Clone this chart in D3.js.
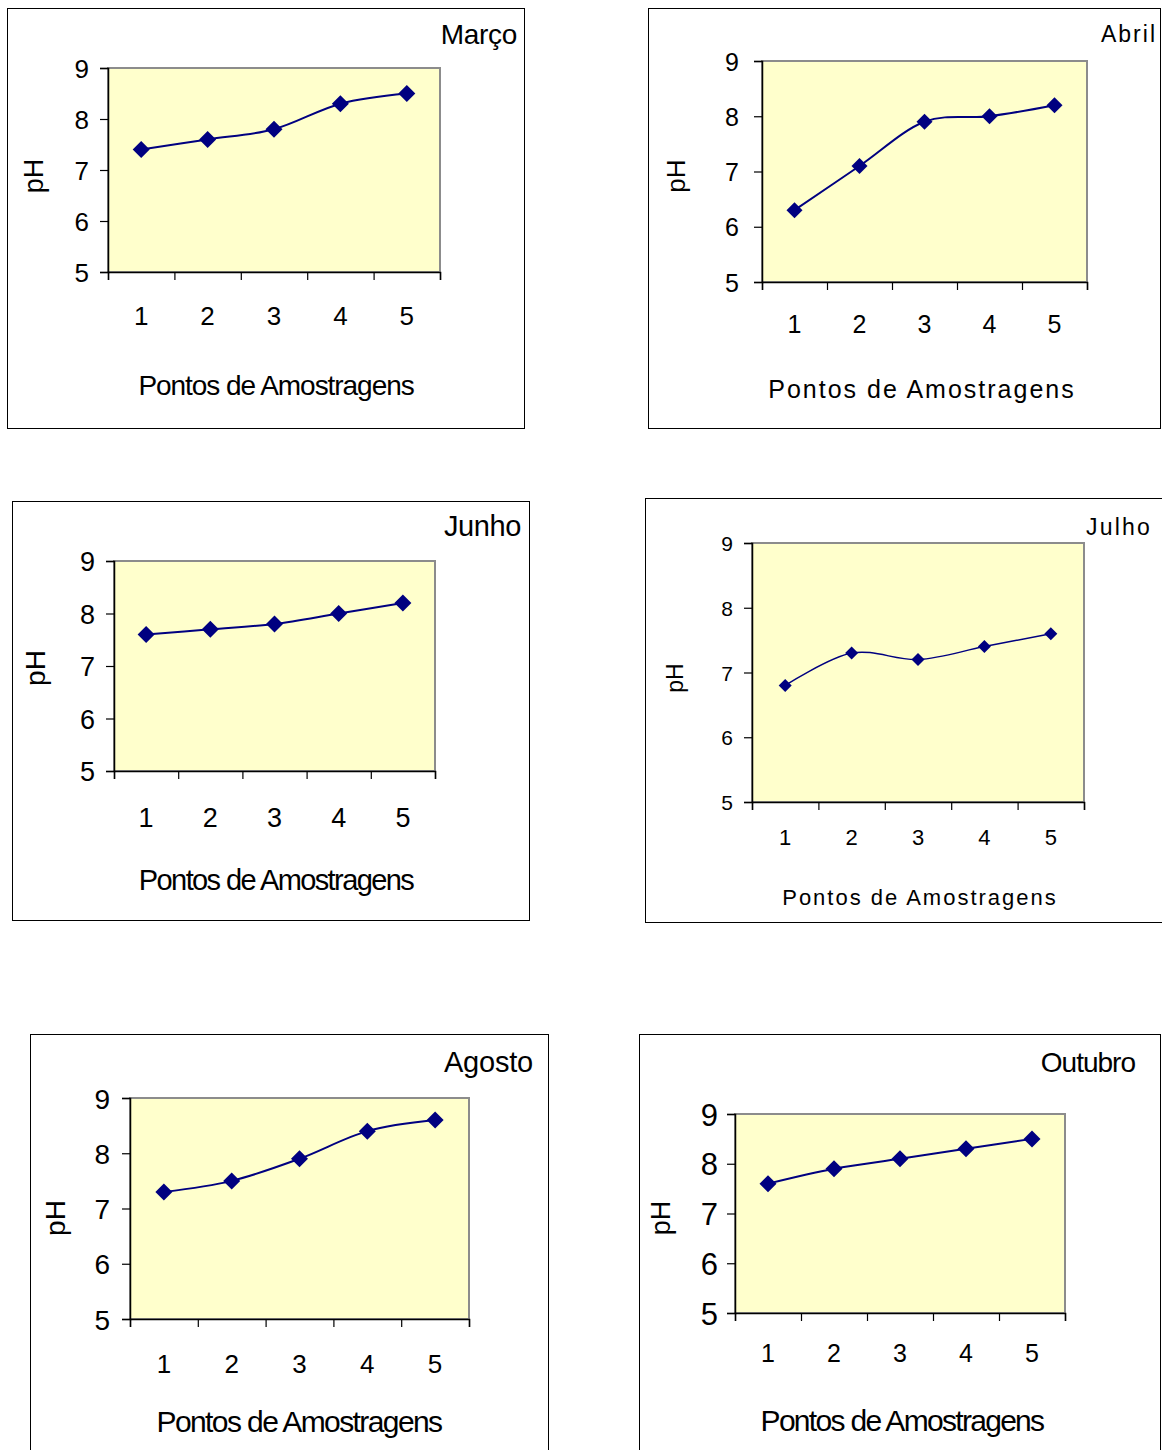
<!DOCTYPE html>
<html>
<head>
<meta charset="utf-8">
<script src="https://cdn.jsdelivr.net/npm/d3@7"></script>
<style>
  html, body { margin: 0; padding: 0; background: #fff; }
  svg { display: block; }
  text { font-family: "Liberation Sans", Arial, sans-serif; fill: #000; }
</style>
</head>
<body>
<svg id="chart" width="1162" height="1450"></svg>
<script>
// pH por ponto de amostragem, um painel por mês
const pontos = ["1", "2", "3", "4", "5"];
const phTicks = [5, 6, 7, 8, 9];
const meses = ["Março", "Abril", "Junho", "Julho", "Agosto", "Outubro"];
const phMarco   = [7.4, 7.6, 7.8, 8.3, 8.5];
const phAbril   = [6.3, 7.1, 7.9, 8.0, 8.2];
const phJunho   = [7.6, 7.7, 7.8, 8.0, 8.2];
const phJulho   = [6.8, 7.3, 7.2, 7.4, 7.6];
const phAgosto  = [7.3, 7.5, 7.9, 8.4, 8.6];
const phOutubro = [7.6, 7.9, 8.1, 8.3, 8.5];
const eixoX = "Pontos de Amostragens";
const eixoY = "pH";

const series = [phMarco, phAbril, phJunho, phJulho, phAgosto, phOutubro];

// Panel geometry and typography
const layout = [
  { frame: [7, 8, 524, 428], plot: [108, 68, 440, 272], yLab: 89, xLabY: 316, tick: 26, xTick: 26,
    title: { x: 517, y: 44, size: 28, ls: -0.3 }, axis: { x: 276, y: 395, size: 28, ls: -1.05 }, ph: { x: 35, y: 176, size: 27 }, mk: 17, lw: 2 },
  { frame: [648, 8, 1160, 428], plot: [762, 61, 1087, 282], yLab: 739, xLabY: 324, tick: 25, xTick: 25,
    title: { x: 1157, y: 42, size: 23, ls: 2 }, axis: { x: 922, y: 398, size: 25, ls: 2 }, ph: { x: 677, y: 176, size: 26 }, mk: 16, lw: 2 },
  { frame: [12, 501, 529, 920], plot: [114, 561, 435, 771], yLab: 95, xLabY: 817, tick: 27, xTick: 27,
    title: { x: 521, y: 536, size: 29, ls: -0.4 }, axis: { x: 276, y: 890, size: 29, ls: -1.6 }, ph: { x: 37, y: 668, size: 28 }, mk: 17, lw: 2 },
  { frame: [645, 498, 1163, 922], plot: [752, 543, 1084, 802], yLab: 733, xLabY: 837, tick: 21, xTick: 22,
    title: { x: 1152, y: 535, size: 23, ls: 2.2 }, axis: { x: 920, y: 905, size: 22, ls: 2 }, ph: { x: 676, y: 678, size: 23 }, mk: 13, lw: 1.5 },
  { frame: [30, 1034, 548, 1460], plot: [130, 1098, 469, 1319], yLab: 110, xLabY: 1364, tick: 28, xTick: 26,
    title: { x: 533, y: 1072, size: 29, ls: -0.2 }, axis: { x: 299, y: 1432, size: 30, ls: -1.6 }, ph: { x: 57, y: 1218, size: 28 }, mk: 17, lw: 2 },
  { frame: [639, 1034, 1160, 1460], plot: [735, 1114, 1065, 1313], yLab: 718, xLabY: 1353, tick: 31, xTick: 25,
    title: { x: 1135, y: 1072, size: 28, ls: -1 }, axis: { x: 902, y: 1431, size: 30, ls: -1.7 }, ph: { x: 662, y: 1218, size: 27 }, mk: 17, lw: 2 }
];

const svg = d3.select("#chart");
const navy = "#000080";

series.forEach((vals, i) => {
  const L = layout[i];
  const [fx0, fy0, fx1, fy1] = L.frame;
  const [px0, py0, px1, py1] = L.plot;
  const g = svg.append("g");

  // outer chart frame
  g.append("rect")
    .attr("x", fx0 + 0.5).attr("y", fy0 + 0.5)
    .attr("width", fx1 - fx0).attr("height", fy1 - fy0)
    .attr("fill", "#fff").attr("stroke", "#000").attr("stroke-width", 1);

  const x = d3.scaleBand().domain(pontos).range([px0, px1]).padding(0);
  const xEdges = d3.scaleLinear().domain([0, pontos.length]).range([px0, px1]);
  const y = d3.scaleLinear().domain([5, 9]).range([py1, py0]);

  // plot area
  g.append("rect")
    .attr("x", px0).attr("y", py0)
    .attr("width", px1 - px0).attr("height", py1 - py0)
    .attr("fill", "#ffffcc").attr("stroke", "#8c8c8c").attr("stroke-width", 2);

  // y axis
  const yAxis = g.append("g")
    .attr("transform", `translate(${px0},0)`)
    .call(d3.axisLeft(y).tickValues(phTicks).tickFormat(d3.format("d")).tickSize(8).tickPadding(px0 - 8 - L.yLab));
  yAxis.select(".domain").attr("stroke", "#000").attr("stroke-width", 1.5);
  yAxis.selectAll(".tick line").attr("stroke", "#000").attr("stroke-width", 1.2);
  yAxis.selectAll(".tick text")
    .attr("font-size", L.tick).attr("font-family", "Liberation Sans, Arial, sans-serif")
    .attr("fill", "#000").attr("dy", "0.36em");

  // x axis: category boundaries as ticks
  const xAxisTicks = g.append("g")
    .attr("transform", `translate(0,${py1})`)
    .call(d3.axisBottom(xEdges).ticks(pontos.length).tickFormat("").tickSize(8).tickSizeOuter(8));
  xAxisTicks.select(".domain").attr("stroke", "#000").attr("stroke-width", 1.5);
  xAxisTicks.selectAll(".tick line").attr("stroke", "#000").attr("stroke-width", 1.2);

  // x axis: category labels
  const xAxisLabels = g.append("g")
    .attr("transform", `translate(0,${L.xLabY})`)
    .call(d3.axisBottom(x).tickSize(0).tickPadding(0));
  xAxisLabels.select(".domain").remove();
  xAxisLabels.selectAll(".tick text")
    .attr("font-size", L.xTick).attr("font-family", "Liberation Sans, Arial, sans-serif")
    .attr("fill", "#000").attr("y", 0).attr("dy", "0.36em");

  // smoothed series line
  const pts = vals.map((v, k) => [x(pontos[k]) + x.bandwidth() / 2, y(v)]);
  g.append("path")
    .attr("d", d3.line().curve(d3.curveCardinal.tension(0))(pts))
    .attr("fill", "none").attr("stroke", navy).attr("stroke-width", L.lw);

  // diamond markers
  const diamond = d3.symbol().type(d3.symbolSquare).size(L.mk * L.mk / 2);
  g.selectAll("path.mk").data(vals).join("path")
    .attr("class", "mk")
    .attr("d", diamond)
    .attr("transform", (v, k) => `translate(${x(pontos[k]) + x.bandwidth() / 2},${y(v)}) rotate(45)`)
    .attr("fill", navy);

  // month title
  g.append("text")
    .attr("x", L.title.x).attr("y", L.title.y)
    .attr("text-anchor", "end")
    .attr("font-size", L.title.size).attr("letter-spacing", L.title.ls)
    .text(meses[i]);

  // x axis title
  g.append("text")
    .attr("x", L.axis.x).attr("y", L.axis.y)
    .attr("text-anchor", "middle")
    .attr("font-size", L.axis.size).attr("letter-spacing", L.axis.ls)
    .text(eixoX);

  // y axis title
  g.append("text")
    .attr("transform", `translate(${L.ph.x},${L.ph.y}) rotate(-90)`)
    .attr("text-anchor", "middle").attr("dy", "0.3em")
    .attr("font-size", L.ph.size)
    .text(eixoY);
});
</script>
</body>
</html>
